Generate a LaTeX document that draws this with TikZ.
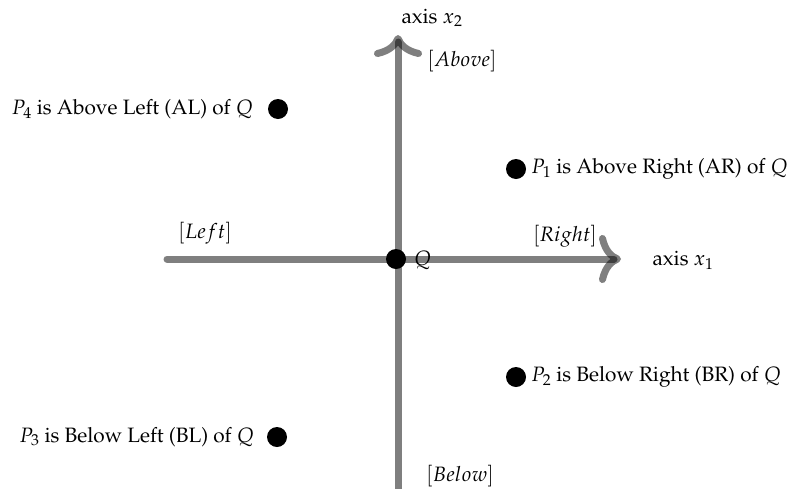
\documentclass[tikz,border=0pt]{standalone}
\usepackage[T1]{fontenc}
\usepackage{mathpazo}
\usetikzlibrary{arrows.meta}
\begin{document}
\begin{tikzpicture}[x=1pt,y=-1pt,
  every node/.style={font=\fontsize{20.8}{24}\selectfont},
  axisline/.style={line width=7pt, draw=black, draw opacity=0.5, line cap=round,
    -{Computer Modern Rightarrow[length=22pt,width=48pt,line cap=round]}},
  dot/.style={circle, fill=black, minimum size=20pt, inner sep=0pt},
  lbl/.style={inner sep=0pt}]
\useasboundingbox (0,0) rectangle (795,488);
\coordinate (hs) at (167,259);
\coordinate (he) at (621,259);
\coordinate (vs) at (398,500);
\coordinate (ve) at (398,35);
\draw[axisline] (hs) -- (he);
\draw[axisline] (vs) -- (ve);
\node[dot] (Q) at (396,259) {};
\node[lbl, anchor=west] (Ql) at (414,260) {$Q$};
\node[dot] (P1) at (516,169) {};
\node[dot] (P2) at (516,377) {};
\node[dot] (P3) at (277,437) {};
\node[dot] (P4) at (278,109) {};
\node[lbl, anchor=west] (t1) at (531,169) {$P_1$ is Above Right (AR) of $Q$};
\node[lbl, anchor=west] (t2) at (531,377) {$P_2$ is Below Right (BR) of $Q$};
\node[lbl, anchor=east] (t3) at (254,437) {$P_3$ is Below Left (BL) of $Q$};
\node[lbl, anchor=east] (t4) at (253,109) {$P_4$ is Above Left (AL) of $Q$};
\node[lbl] (ax2) at (432,18) {axis $x_2$};
\node[lbl] (ax1) at (683,260) {axis $x_1$};
\node[lbl] (ab) at (462,61) {$[Above]$};
\node[lbl] (le) at (205,233) {$[Left]$};
\node[lbl] (ri) at (565,236) {$[Right]$};
\node[lbl] (be) at (460,476) {$[Below]$};
\end{tikzpicture}
\end{document}
